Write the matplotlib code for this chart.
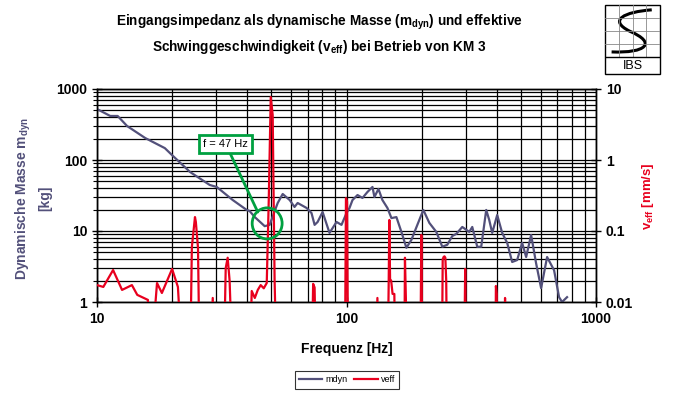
import matplotlib
matplotlib.use("Agg")
import matplotlib.pyplot as plt
from matplotlib.patches import Ellipse, Rectangle, PathPatch
from matplotlib.path import Path
from matplotlib.ticker import LogLocator, NullFormatter, FixedLocator, FixedFormatter

plt.rcParams['font.family'] = ['Liberation Sans', 'DejaVu Sans']
plt.rcParams['mathtext.fontset'] = 'custom'
plt.rcParams['mathtext.rm'] = 'Liberation Sans:bold'
plt.rcParams['mathtext.it'] = 'Liberation Sans:bold'
plt.rcParams['mathtext.bf'] = 'Liberation Sans:bold'

# dynamische Masse (linke Achse, kg)
f_mdyn = [10.0, 11.3, 12.1, 13.2, 15.6, 18.7, 20.0, 23.6, 28.3, 30.2,
          35.0, 39.8, 40.9, 42.9, 47.0, 49.2, 53.0, 55.5, 59.2, 61.9,
          63.7, 69.2, 72.4, 74.5, 76.6, 80.2, 85.5, 91.2, 95.5, 100,
          102.8, 105.7, 110.7, 115.9, 121.3, 127.1, 129.4, 134.3, 139.3, 145.9,
          151.4, 158.5, 166.0, 173.8, 182.0, 192.3, 203.2, 214.8, 229.1, 242.1,
          253.5, 265.5, 275.4, 291.1, 310.5, 319.2, 334.2, 346.7, 363.1, 373.3,
          383.7, 401.8, 420.7, 440.6, 461.3, 483.1, 505.8, 524.8, 549.5, 575.4,
          602.6, 636.8, 679.2, 711.2, 731.1, 765.6]
m_dyn = [522, 417, 417, 301, 204, 147, 117, 67.8, 44.5, 41.7,
         27.3, 19.8, 19.1, 15.7, 11.7, 12.2, 24.8, 33.2, 27.3, 21.8,
         24.8, 21.1, 17.9, 12.2, 13.4, 18.5, 9.4, 13.4, 12.2, 17.9,
         21.1, 27.3, 32.1, 29.2, 35.4, 41.7, 30.1, 39.1, 27.3, 21.1,
         15.2, 15.7, 9.7, 5.8, 7.5, 12.2, 19.8, 13.0, 9.7, 6.0,
         6.4, 8.5, 9.1, 11.4, 9.7, 11.4, 6.0, 6.0, 19.8, 14.3,
         9.4, 16.8, 9.4, 6.8, 3.66, 3.9, 6.8, 4.3, 8.8, 3.5,
         1.57, 4.3, 2.8, 1.17, 1.0, 1.17]

# effektive Schwinggeschwindigkeit (rechte Achse, mm/s); 0.001 = unterhalb der Achse
f_veff = [10.0, 10.6, 11.6, 12.6, 13.8, 14.5, 16.0, 16.3, 17.4, 18.2,
          20.0, 21.1, 22.1, 23.6, 24.0, 24.7, 24.9, 25.4, 25.8, 28.3,
          29.1, 29.6, 32.2, 32.8, 33.4, 34.0, 35.0, 40.9, 41.7, 42.9,
          44.1, 45.3, 46.6, 47.9, 48.8, 49.7, 50.6, 51.5, 52.5, 72.5,
          73.5, 74.5, 75.5, 98.5, 99.5, 100.5, 101.5, 131, 133, 135,
          146, 147.5, 148.5, 149.5, 151, 153, 155.5, 157, 170.5, 171.5,
          173, 174, 197.5, 199.5, 201.5, 241, 243, 245, 247, 249,
          251, 253, 296, 299, 302, 395, 397, 400, 402, 429,
          432, 435, 1000]
v_eff = [0.0173, 0.0163, 0.0282, 0.0148, 0.0173, 0.0126, 0.0107, 0.001, 0.0185, 0.0134,
         0.0292, 0.0163, 0.001, 0.001, 0.0596, 0.157, 0.134, 0.0577, 0.001, 0.001,
         0.0114, 0.001, 0.001, 0.03, 0.042, 0.02, 0.001, 0.001, 0.0143, 0.0114,
         0.0148, 0.0173, 0.0156, 0.0185, 0.273, 7.7, 4.3, 0.0204, 0.001, 0.001,
         0.018, 0.016, 0.001, 0.001, 0.29, 0.26, 0.001, 0.001, 0.0114, 0.001,
         0.001, 0.015, 0.143, 0.021, 0.02, 0.013, 0.013, 0.001, 0.001, 0.042,
         0.011, 0.001, 0.001, 0.088, 0.001, 0.001, 0.04, 0.043, 0.044, 0.042,
         0.02, 0.001, 0.001, 0.0292, 0.001, 0.001, 0.0168, 0.013, 0.001, 0.001,
         0.0114, 0.001, 0.001]

C_MDYN = "#52507a"
C_VEFF = "#e8001e"
C_GREEN = "#00a040"

fig = plt.figure(figsize=(6.73, 3.93), dpi=100)
ax = fig.add_axes([97 / 673, 1 - 302 / 393, 499 / 673, 213 / 393])
ax2 = ax.twinx()

ax.plot(f_mdyn, m_dyn, color=C_MDYN, lw=1.6, label="mdyn", zorder=3)
ax2.plot(f_veff, v_eff, color=C_VEFF, lw=1.6, label="veff", zorder=3)

ax.set_xscale("log")
ax.set_yscale("log")
ax2.set_yscale("log")
ax.set_xlim(10, 1000)
ax.set_ylim(1, 1000)
ax2.set_ylim(0.01, 10)

ax.xaxis.set_major_locator(FixedLocator([10, 100, 1000]))
ax.xaxis.set_major_formatter(FixedFormatter(["10", "100", "1000"]))
ax.xaxis.set_minor_locator(LogLocator(base=10, subs=range(2, 10)))
ax.xaxis.set_minor_formatter(NullFormatter())
ax.yaxis.set_major_locator(FixedLocator([1, 10, 100, 1000]))
ax.yaxis.set_major_formatter(FixedFormatter(["1", "10", "100", "1000"]))
ax.yaxis.set_minor_locator(LogLocator(base=10, subs=range(2, 10)))
ax.yaxis.set_minor_formatter(NullFormatter())
ax2.yaxis.set_major_locator(FixedLocator([0.01, 0.1, 1, 10]))
ax2.yaxis.set_major_formatter(FixedFormatter(["0.01", "0.1", "1", "10"]))
ax2.yaxis.set_minor_locator(FixedLocator([]))

ax.grid(True, which="both", axis="both", color="black", lw=0.9)
ax.tick_params(which="major", direction="inout", length=7, width=1, labelsize=10)
ax.tick_params(which="minor", direction="out", length=3, width=0.8)
ax.tick_params(axis="x", which="minor", length=0)
ax2.tick_params(which="major", direction="inout", length=7, width=1, labelsize=10)
for lab in ax.get_xticklabels() + ax.get_yticklabels() + ax2.get_yticklabels():
    lab.set_fontweight("bold")
for a in (ax, ax2):
    for s in a.spines.values():
        s.set_color("black")
        s.set_linewidth(1)

# Markierung der Resonanz
ax.annotate("f = 47 Hz", xy=(44.1, 18.5), xytext=(32.8, 168), fontsize=8,
            ha="center", va="center",
            bbox=dict(boxstyle="square,pad=0.35", fc="white", ec=C_GREEN, lw=2),
            arrowprops=dict(arrowstyle="-", color=C_GREEN, lw=2, shrinkA=0, shrinkB=0),
            zorder=5)
ax2.add_patch(Ellipse((0.341, 0.369), 0.060, 0.146, transform=ax.transAxes,
                      fill=False, ec=C_GREEN, lw=2, zorder=6))

fig.text(0.474, 1 - 22 / 393,
         "Eingangsimpedanz als dynamische Masse (m$_{dyn}$) und effektive",
         ha="center", va="center", fontsize=9.8, fontweight="bold")
fig.text(0.474, 1 - 47 / 393,
         "Schwinggeschwindigkeit (v$_{eff}$) bei Betrieb von KM 3",
         ha="center", va="center", fontsize=9.8, fontweight="bold")
fig.text(33 / 673, 1 - 198 / 393, "Dynamische Masse m$_{dyn}$\n[kg]",
         rotation=90, ha="center", va="center", multialignment="center",
         fontsize=10, fontweight="bold", color=C_MDYN, linespacing=1.4)
fig.text(648 / 673, 1 - 196 / 393, "v$_{eff}$ [mm/s]", rotation=90,
         ha="center", va="center", fontsize=9.5, fontweight="bold", color=C_VEFF)
fig.text(347 / 673, 1 - 349 / 393, "Frequenz [Hz]", ha="center", va="center",
         fontsize=10, fontweight="bold")

h1, l1 = ax.get_legend_handles_labels()
h2, l2 = ax2.get_legend_handles_labels()
leg = fig.legend(h1 + h2, l1 + l2, loc="center", bbox_to_anchor=(347 / 673, 1 - 380 / 393),
                 ncol=2, fontsize=6.5, frameon=True, fancybox=False, edgecolor="black",
                 handlelength=2.6, columnspacing=0.8, handletextpad=0.3, borderpad=0.45)
leg.get_frame().set_linewidth(0.8)

# Logo
lg = fig.add_axes([605 / 673, 1 - 74 / 393, 55 / 673, 69 / 393])
lg.set_xlim(0, 1)
lg.set_ylim(0, 1)
lg.axis("off")
lg.add_patch(Rectangle((0, 0), 1, 1, fill=False, ec="black", lw=1, clip_on=False))
for xv in (0.25, 0.5, 0.75):
    lg.plot([xv, xv], [0.24, 1], color="#888888", lw=0.6)
for yv in (0.43, 0.62, 0.81):
    lg.plot([0, 1], [yv, yv], color="#888888", lw=0.6)
lg.plot([0, 1], [0.24, 0.24], color="black", lw=1)
s_path = Path([(0.85, 0.93), (0.35, 0.9), (0.05, 0.78), (0.45, 0.62),
               (0.95, 0.45), (0.75, 0.3), (0.12, 0.32)],
              [Path.MOVETO, Path.CURVE4, Path.CURVE4, Path.CURVE4,
               Path.CURVE4, Path.CURVE4, Path.CURVE4])
lg.add_patch(PathPatch(s_path, fill=False, ec="black", lw=2.2, clip_on=False))
lg.text(0.5, 0.12, "IBS", ha="center", va="center", fontsize=9)

fig.savefig("out.png", dpi=100)
